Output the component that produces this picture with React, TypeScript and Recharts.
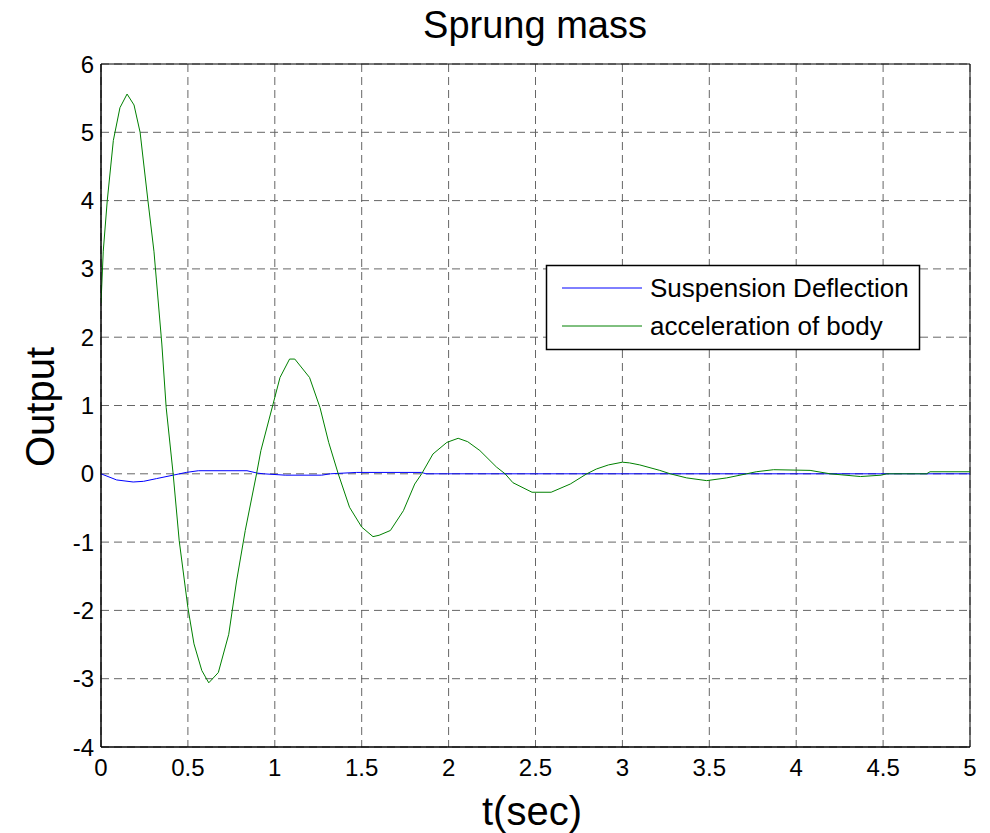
import { LineChart, Line, XAxis, YAxis, CartesianGrid, ReferenceArea } from "recharts";

// Text
const title = "Sprung mass";
const xLabel = "t(sec)";
const yLabel = "Output";
const seriesNames = ["Suspension Deflection", "acceleration of body"];
const seriesColors = ["#0000ff", "#008000"];

// Axis ticks
const xTicks = [0, 0.5, 1, 1.5, 2, 2.5, 3, 3.5, 4, 4.5, 5];
const yTicks = [-4, -3, -2, -1, 0, 1, 2, 3, 4, 5, 6];

// Suspension deflection
const deflectionTime = [0, 0.09, 0.185, 0.245, 0.32, 0.415, 0.49, 0.56, 0.84, 0.9, 0.935, 1.06, 1.27, 1.32, 1.47, 1.845, 1.87, 5];
const deflectionValue = [0, -0.09, -0.12, -0.11, -0.07, -0.02, 0.02, 0.045, 0.045, 0.01, 0, -0.02, -0.02, 0, 0.02, 0.02, 0, 0];

// Acceleration of body
const accelTime = [
  0, 0.013, 0.036, 0.071, 0.109, 0.15, 0.19, 0.225, 0.27, 0.305, 0.35, 0.375, 0.415, 0.45, 0.5,
  0.535, 0.58, 0.62, 0.675, 0.735, 0.78, 0.83, 0.895, 0.92, 0.99, 1.03, 1.085, 1.115, 1.2, 1.26,
  1.31, 1.365, 1.43, 1.5, 1.565, 1.6, 1.665, 1.74, 1.805, 1.845, 1.91, 1.99, 2.055, 2.11, 2.18,
  2.275, 2.325, 2.37, 2.48, 2.59, 2.7, 2.795, 2.85, 2.92, 3.0, 3.04, 3.1, 3.215, 3.275, 3.37,
  3.485, 3.6, 3.715, 3.77, 3.87, 4.08, 4.195, 4.37, 4.49, 4.52, 4.75, 4.77, 5,
];
const accelValue = [
  2.5, 3.26, 4.0, 4.88, 5.36, 5.56, 5.4, 5.0, 4.0, 3.25, 1.9, 0.97, 0, -0.98, -1.96,
  -2.49, -2.88, -3.06, -2.91, -2.35, -1.57, -0.83, 0, 0.34, 1.02, 1.41, 1.68, 1.68, 1.41, 0.97,
  0.46, 0, -0.49, -0.78, -0.92, -0.9, -0.83, -0.54, -0.15, 0, 0.29, 0.46, 0.52, 0.47, 0.34,
  0.1, 0, -0.13, -0.27, -0.27, -0.15, 0, 0.07, 0.13, 0.17, 0.16, 0.13, 0.05, 0, -0.06,
  -0.1, -0.06, 0, 0.03, 0.06, 0.05, 0, -0.04, -0.02, 0, 0, 0.03, 0.03,
];

const deflectionData = deflectionTime.map((t, i) => ({ t, v: deflectionValue[i] }));
const accelData = accelTime.map((t, i) => ({ t, v: accelValue[i] }));

const font = "'Liberation Sans', Arial, sans-serif";

const App = () => {
  return (
    <div style={{ position: "absolute", left: 0, top: 0, width: 990, height: 833, background: "#fff", fontFamily: font }}>
      <LineChart width={990} height={833} margin={{ top: 64, right: 20, bottom: 46, left: 41 }}>
        <CartesianGrid stroke="#666" strokeDasharray="8 5" />
        <XAxis
          type="number"
          dataKey="t"
          domain={[0, 5]}
          ticks={xTicks}
          interval={0}
          height={40}
          tickSize={0}
          tickMargin={12}
          axisLine={{ stroke: "#000" }}
          tick={{ fontSize: 24, fill: "#000", fontFamily: font }}
          allowDataOverflow
        />
        <YAxis
          type="number"
          domain={[-4, 6]}
          ticks={yTicks}
          interval={0}
          width={60}
          tickSize={0}
          tickMargin={7}
          axisLine={{ stroke: "#000" }}
          tick={{ fontSize: 24, fill: "#000", fontFamily: font }}
          allowDataOverflow
        />
        <Line
          data={deflectionData}
          dataKey="v"
          type="linear"
          stroke={seriesColors[0]}
          strokeWidth={1}
          dot={false}
          activeDot={false}
          isAnimationActive={false}
        />
        <Line
          data={accelData}
          dataKey="v"
          type="linear"
          stroke={seriesColors[1]}
          strokeWidth={1}
          dot={false}
          activeDot={false}
          isAnimationActive={false}
        />
        {/* box round the plot */}
        <ReferenceArea x1={0} x2={5} y1={-4} y2={6} fill="none" fillOpacity={0} stroke="#000" strokeWidth={1} />
      </LineChart>

      {/* title, axis labels and legend */}
      <svg width={990} height={833} style={{ position: "absolute", left: 0, top: 0, pointerEvents: "none" }}>
        <text x={535} y={38} textAnchor="middle" fontSize={38} fontFamily={font} fill="#000">
          {title}
        </text>
        <text x={532} y={825} textAnchor="middle" fontSize={40} fontFamily={font} fill="#000">
          {xLabel}
        </text>
        <text
          x={0}
          y={0}
          transform="translate(54,407) rotate(-90)"
          textAnchor="middle"
          fontSize={40}
          fontFamily={font}
          fill="#000"
        >
          {yLabel}
        </text>
        <rect x={546.5} y={265.5} width={373} height={84} fill="#fff" stroke="#000" strokeWidth={1.5} />
        {seriesNames.map((name, i) => (
          <g key={name}>
            <line x1={562} x2={642} y1={288 + i * 38} y2={288 + i * 38} stroke={seriesColors[i]} strokeWidth={1} />
            <text x={650} y={297 + i * 38} fontSize={26} fontFamily={font} fill="#000">
              {name}
            </text>
          </g>
        ))}
      </svg>
    </div>
  );
};

export default App;
